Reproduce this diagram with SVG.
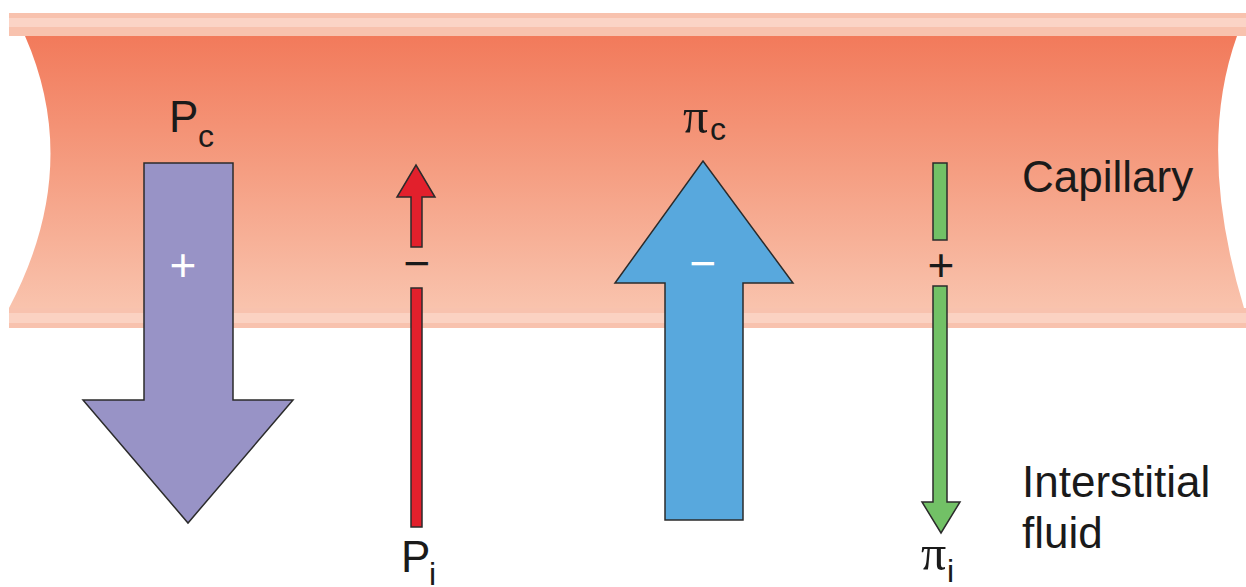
<svg xmlns="http://www.w3.org/2000/svg" width="1246" height="587" viewBox="0 0 1246 587">
<defs>
<linearGradient id="lumen" x1="0" y1="36" x2="0" y2="308" gradientUnits="userSpaceOnUse">
<stop offset="0" stop-color="#F27A5B"/>
<stop offset="0.5" stop-color="#F59E82"/>
<stop offset="1" stop-color="#F9C3AD"/>
</linearGradient>
</defs>
<style>
.lbl{font-family:"Liberation Sans",Arial,sans-serif;fill:#1a1a1a}
.pi{font-family:"Liberation Serif","Times New Roman",serif;fill:#1a1a1a}
.arr{stroke:#2b2b2b;stroke-width:1.5;stroke-linejoin:miter}
.sign{font-family:"Liberation Sans",Arial,sans-serif;font-size:46px;text-anchor:middle}
</style>
<g id="capillary">
<path d="M25,36 L1237,36 Q1196,150 1244,308 L9,308 Q83,168 25,36 Z" fill="url(#lumen)"/>
<rect x="9" y="13" width="1237" height="23" fill="#F8C2AE"/>
<rect x="9" y="18" width="1237" height="9" fill="#FBD4C6"/>
<rect x="9" y="308" width="1237" height="20" fill="#F8C2AE"/>
<rect x="9" y="313" width="1237" height="10" fill="#FBD2C2"/>
</g>
<g id="connectors">
<g id="Pc-arrow">
<path class="arr" d="M144,163 L233,163 L233,400 L293,400 L188,523 L83,400 L144,400 Z" fill="#9893C6"/>
<text class="sign" x="183" y="281" fill="#ffffff">+</text>
</g>
<g id="Pi-arrow">
<path class="arr" d="M411,247 L411,197 L397,197 L416,165 L435,197 L422,197 L422,247 Z" fill="#E2202C"/>
<rect class="arr" x="411" y="288" width="11" height="239" fill="#E2202C"/>
<text class="sign" x="417" y="279" fill="#1a1a1a">−</text>
</g>
<g id="pic-arrow">
<path class="arr" d="M665,520 L665,283 L615,283 L703,161 L793,283 L743,283 L743,520 Z" fill="#58A8DD"/>
<text class="sign" x="703" y="279" fill="#ffffff">−</text>
</g>
<g id="pii-arrow">
<rect class="arr" x="933" y="163" width="14" height="77" fill="#72C166"/>
<path class="arr" d="M933,286 L947,286 L947,502 L960,502 L941,533 L922,502 L933,502 Z" fill="#72C166"/>
<text class="sign" x="941" y="281" fill="#1a1a1a">+</text>
</g>
</g>
<g id="labels">
<g id="Pc-label"><text class="lbl" x="169" y="132" font-size="44">P</text><text class="lbl" x="198" y="147" font-size="32">c</text></g>
<g id="Pi-label"><text class="lbl" x="401" y="572" font-size="44">P</text><text class="lbl" x="429" y="585" font-size="32">i</text></g>
<g id="pic-label"><text class="pi" x="683" y="133" font-size="50">π</text><text class="lbl" x="710" y="140" font-size="32">c</text></g>
<g id="pii-label"><text class="pi" x="921" y="570" font-size="50">π</text><text class="lbl" x="947" y="582" font-size="32">i</text></g>
<g id="capillary-label"><text class="lbl" x="1022" y="192" font-size="44">Capillary</text></g>
<g id="interstitial-label"><text class="lbl" x="1022" y="497" font-size="44">Interstitial</text><text class="lbl" x="1022" y="548" font-size="44">fluid</text></g>
</g>
</svg>
